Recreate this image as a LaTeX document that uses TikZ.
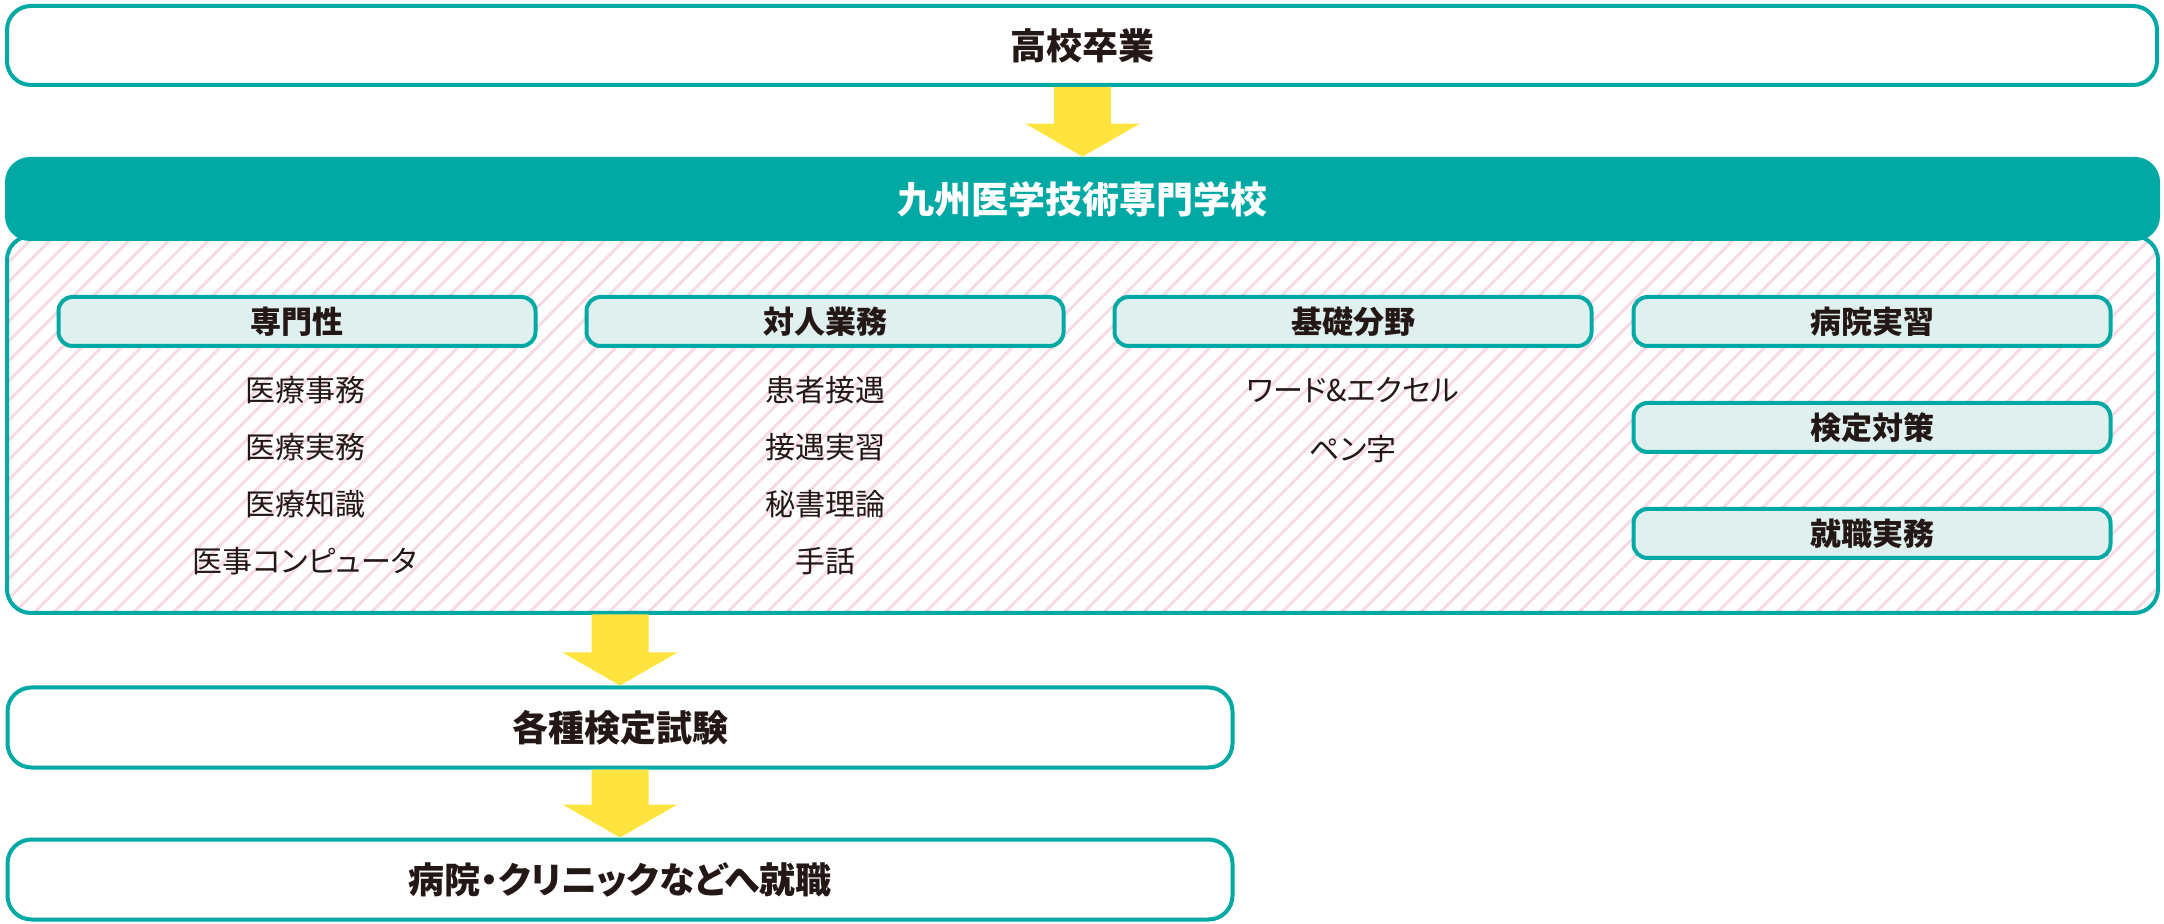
\documentclass[tikz,border=0pt]{standalone}
\usepackage{fontspec}
\setmainfont{Noto Sans CJK JP}[CharacterWidth=AlternateProportional]
\usetikzlibrary{positioning, calc, patterns.meta}

\definecolor{schoolteal}{HTML}{00A9A4}
\definecolor{paleteal}{HTML}{E0F0EF}
\definecolor{arrowyellow}{HTML}{FFE33E}
\definecolor{hatchpink}{HTML}{F8DAE6}
\definecolor{inkdark}{HTML}{231815}

% yellow block arrow from the bottom of #1 down to the top of #2
\newcommand{\flowarrow}[2]{%
  \fill[arrowyellow] ($(#1.south -| #2.north)+(-28.5,0)$) -- ++(57,0)
    -- ($(#2.north)+(28.5,-33)$) -- ($(#2.north)+(57.5,-33)$)
    -- (#2.north)
    -- ($(#2.north)+(-57.5,-33)$) -- ($(#2.north)+(-28.5,-33)$) -- cycle;}

\begin{document}
\begin{tikzpicture}[
  x=0.5pt, y=-0.5pt,
  stagebox/.style={draw=schoolteal, line width=2pt, rounded corners=12pt, fill=white,
    text=inkdark, font=\bfseries\fontsize{18}{22}\selectfont, inner sep=0pt},
  header/.style={fill=schoolteal, rounded corners=12.5pt, text=white,
    font=\bfseries\fontsize{18.5}{22}\selectfont, inner sep=0pt},
  panel/.style={draw=schoolteal, line width=2pt, rounded corners=12pt,
    pattern={Lines[angle=45, distance=7pt, line width=1.5pt]}, pattern color=hatchpink},
  catbox/.style={draw=schoolteal, line width=2pt, rounded corners=7pt, fill=paleteal,
    minimum width=238.5pt, minimum height=24.5pt, inner sep=0pt,
    text=inkdark, font=\bfseries\fontsize{15.5}{18}\selectfont},
  item/.style={text=inkdark, font=\fontsize{15}{18}\selectfont,
    minimum height=28.5pt, inner sep=0pt, outer sep=0pt}
]
\useasboundingbox (0,0) rectangle (2164,924);

% stages
\node[stagebox, minimum width=1075pt, minimum height=39.5pt] (top) at (1082,45.5) {高校卒業};
\node[panel, minimum width=1075.5pt, minimum height=188.5pt] (panel) at (1082.5,424.5) {};
\node[header, minimum width=1077.5pt, minimum height=42pt] (school) at (1082.5,199) {九州医学技術専門学校};
\node[stagebox, minimum width=612.5pt, minimum height=40pt, below=35.5pt of panel.south west, anchor=north west] (exam) {各種検定試験};
\node[stagebox, minimum width=612.5pt, minimum height=40pt, below=34pt of exam] (job) {病院・クリニックなどへ就職};

% subject headings
\node[catbox] (spec) at (297,321.5) {専門性};
\node[catbox] (interp) at (825,321.5) {対人業務};
\node[catbox] (basic) at (1353,321.5) {基礎分野};
\node[catbox] (clin) at (1872,321.5) {病院実習};
\node[catbox, below=26.5pt of clin] (exprep) {検定対策};
\node[catbox, below=26.5pt of exprep] (career) {就職実務};

% subjects
\node[item, below=6.75pt of spec, xshift=4pt] (spec1) {医療事務};
\node[item, below=0pt of spec1] (spec2) {医療実務};
\node[item, below=0pt of spec2] (spec3) {医療知識};
\node[item, below=0pt of spec3] (spec4) {医事コンピュータ};

\node[item, below=6.75pt of interp] (interp1) {患者接遇};
\node[item, below=0pt of interp1] (interp2) {接遇実習};
\node[item, below=0pt of interp2] (interp3) {秘書理論};
\node[item, below=0pt of interp3] (interp4) {手話};

\node[item, below=6.75pt of basic] (basic1) {ワード\&エクセル};
\node[item, below=1pt of basic1] (basic2) {ペン字};

% flow
\flowarrow{top}{school}
\flowarrow{panel}{exam}
\flowarrow{exam}{job}
\end{tikzpicture}
\end{document}
